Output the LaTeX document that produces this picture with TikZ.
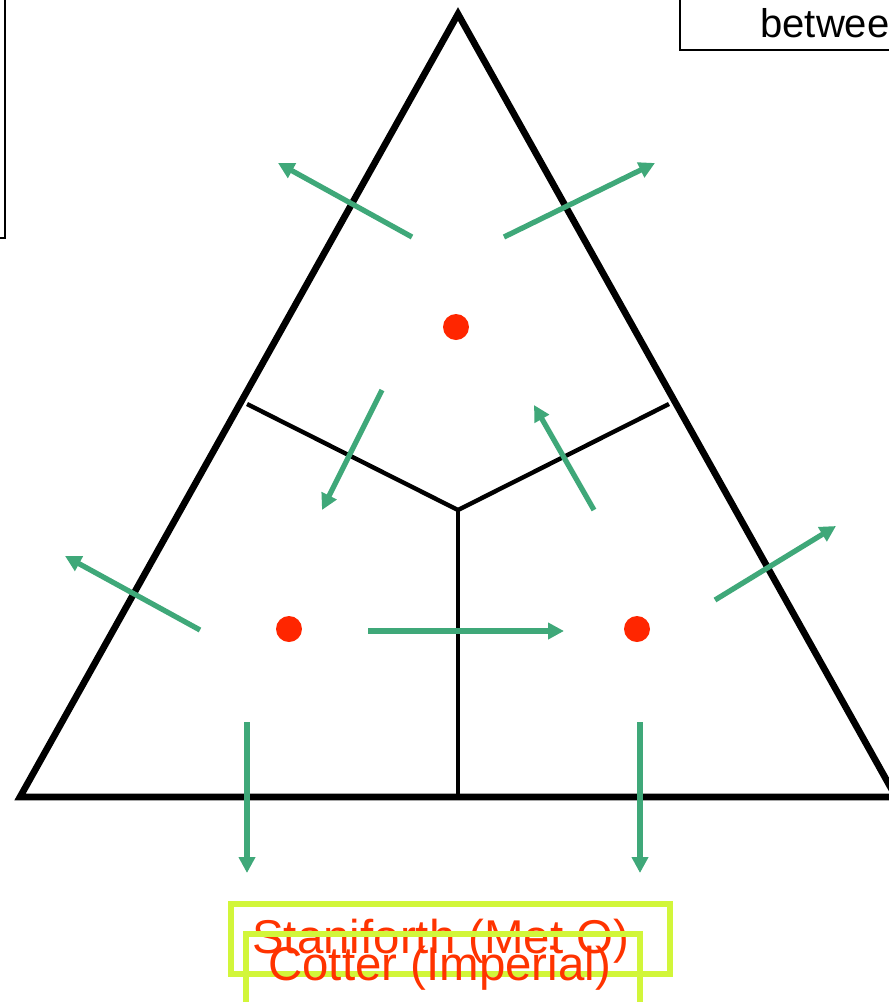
\documentclass[tikz,border=0pt]{standalone}
\usepackage{fontspec}
\setmainfont{Liberation Sans}
\usetikzlibrary{arrows.meta}
\definecolor{flowgreen}{RGB}{63,168,121}
\definecolor{dotred}{RGB}{255,38,0}
\definecolor{labelred}{RGB}{255,51,0}
\definecolor{limebox}{RGB}{210,246,58}

\begin{document}
\begin{tikzpicture}[
  x=0.02cm, y=-0.02cm,
  edge/.style={line width=3.8pt, line join=miter},
  divide/.style={line width=2.5pt},
  flow/.style={-{Triangle[length=0.32cm,width=0.32cm]}, line width=3pt, flowgreen},
  site/.style={circle, fill=dotred, inner sep=0pt, minimum size=0.52cm},
  namebox/.style={draw=limebox, line width=3pt, inner sep=0pt},
  author/.style={text=labelred, font=\fontsize{27}{32}\selectfont, inner sep=0pt, anchor=base west},
]
\clip (0,0) rectangle (889,1002);

% Boxes cut by the edge of the page
\draw[line width=1.1pt] (-50,-20) rectangle (5,238);
\draw[line width=0.8pt] (680,-20) rectangle (950,50);
\node[font=\fontsize{22.8}{27}\selectfont, inner sep=0pt, anchor=base west] (between) at (760,37) {betwee};

% Triangle and dividing lines
\coordinate (apex) at (458,14);
\coordinate (bl) at (20,797);
\coordinate (br) at (896,797);
\coordinate (mid) at (458,510);
\draw[edge] (apex) -- (bl) -- (br) -- cycle;
\draw[divide] (247,404) -- (mid) -- (669,404);
\draw[divide] (mid) -- (458,797);

% Flows
\draw[flow] (412,237) -- (278,163);
\draw[flow] (504,237) -- (655,163);
\draw[flow] (382,390) -- (322,510);
\draw[flow] (594,510) -- (534,405);
\draw[flow] (200,630) -- (65,556);
\draw[flow] (368,631) -- (564,631);
\draw[flow] (715,600) -- (836,526);
\draw[flow] (247,722) -- (247,873);
\draw[flow] (640,722) -- (640,873);

% Sites
\node[site] (top) at (456,327) {};
\node[site] (left) at (289,629) {};
\node[site] (right) at (637,629) {};

% Labels
\node[namebox, minimum width=8.78cm, minimum height=1.4cm] (stanbox) at (450.5,939) {};
\node[author] (stan) at (252,953) {Staniforth (Met O)};
\node[namebox, minimum width=7.88cm, minimum height=2.12cm] (cotbox) at (443,987) {};
\node[author] (cot) at (268,980) {Cotter (Imperial)};
\end{tikzpicture}
\end{document}
